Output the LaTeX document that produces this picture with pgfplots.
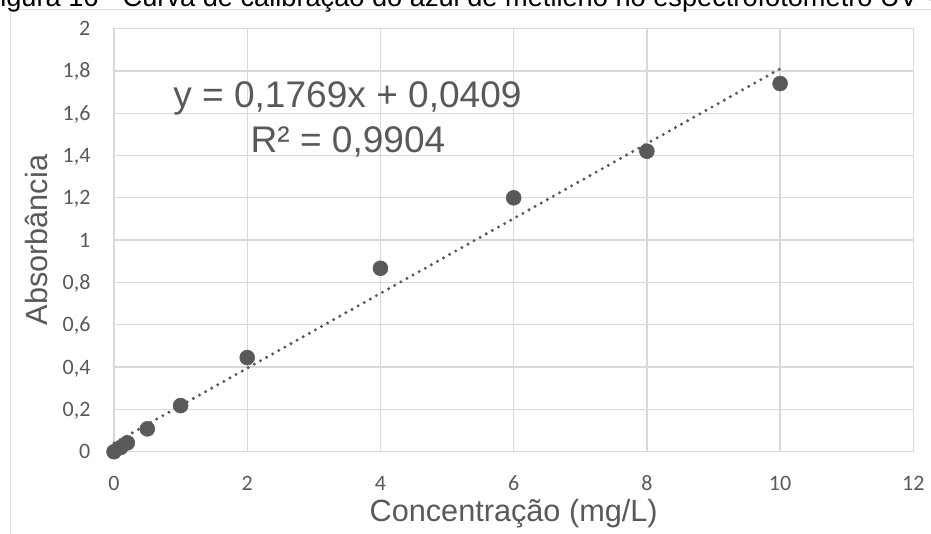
\documentclass[border=0pt]{standalone}
\usepackage{fontspec}
\setmainfont{Liberation Sans}
\newfontfamily\ticksfont{Carlito}
\usepackage{pgfplots}
\pgfplotsset{compat=1.18}
\definecolor{gridgray}{HTML}{D9D9D9}
\definecolor{textgray}{HTML}{595959}
\definecolor{markgray}{HTML}{595959}

\begin{document}
\begin{tikzpicture}
\begin{axis}[
  at={(85.5pt,-338.8pt)}, anchor=south west,
  scale only axis, width=599.5pt, height=317.4pt,
  xmin=0, xmax=12, ymin=0, ymax=2,
  xtick={0,2,4,6,8,10,12},
  ytick={0,0.2,0.4,0.6,0.8,1,1.2,1.4,1.6,1.8,2},
  grid=major, grid style={gridgray, line width=1pt},
  axis line style={gridgray, line width=1pt},
  major tick length=0pt,
  tick label style={font=\ticksfont\fontsize{16.5}{18}\selectfont, text=textgray, inner sep=0pt},
  /pgf/number format/.cd, use comma, fixed, precision=1, assume math mode=true, /pgfplots/.cd,
  yticklabel style={anchor=base east, xshift=-17.5pt, yshift=-5.25pt},
  xticklabel style={anchor=base, yshift=-28.7pt},
  xlabel={Concentração (mg/L)}, ylabel={Absorbância},
  label style={font=\fontsize{23}{26}\selectfont, text=textgray},
  xlabel style={at={(axis description cs:0.5,-0.166)}, anchor=base},
  ylabel style={at={(axis description cs:-0.0838,0.5)}, anchor=base},
  clip=false,
]
% measured absorbance for each standard
\addplot[only marks, mark=*, mark size=5.6pt, markgray, mark options={draw=none, fill=markgray}]
  coordinates {(0,0) (0.1,0.02) (0.2,0.042) (0.5,0.108) (1,0.218) (2,0.445)
               (4,0.867) (6,1.2) (8,1.42) (10,1.74)};
% linear fit y = 0.1769x + 0.0409
\addplot[markgray, line width=2.5pt, dash pattern=on 0pt off 5.25pt, line cap=round]
  coordinates {(0,0.0409) (10,1.8099)};
\end{axis}
% fit equation
\node[anchor=base, text=textgray, font=\fontsize{27.8}{30}\selectfont, inner sep=0pt]
  at (260.6pt,-81pt) {y = 0,1769x + 0,0409};
\node[anchor=base, text=textgray, font=\fontsize{27.8}{30}\selectfont, inner sep=0pt]
  at (261pt,-114.75pt) {R² = 0,9904};
% chart frame and caption
\draw[gridgray, line width=0.75pt] (7.5pt,-400.5pt) -- (7.5pt,-7.5pt) -- (698.25pt,-7.5pt);
\node[anchor=base west, inner sep=0pt, font=\fontsize{20.4}{24}\selectfont]
  at (0pt,-5pt) {\llap{F}igura 16 - Curva de calibração do azul de metileno no espectrofotômetro UV-Vis};
\pgfresetboundingbox
\useasboundingbox (0pt,0pt) rectangle (698.25pt,-400.5pt);
\end{tikzpicture}
\end{document}
